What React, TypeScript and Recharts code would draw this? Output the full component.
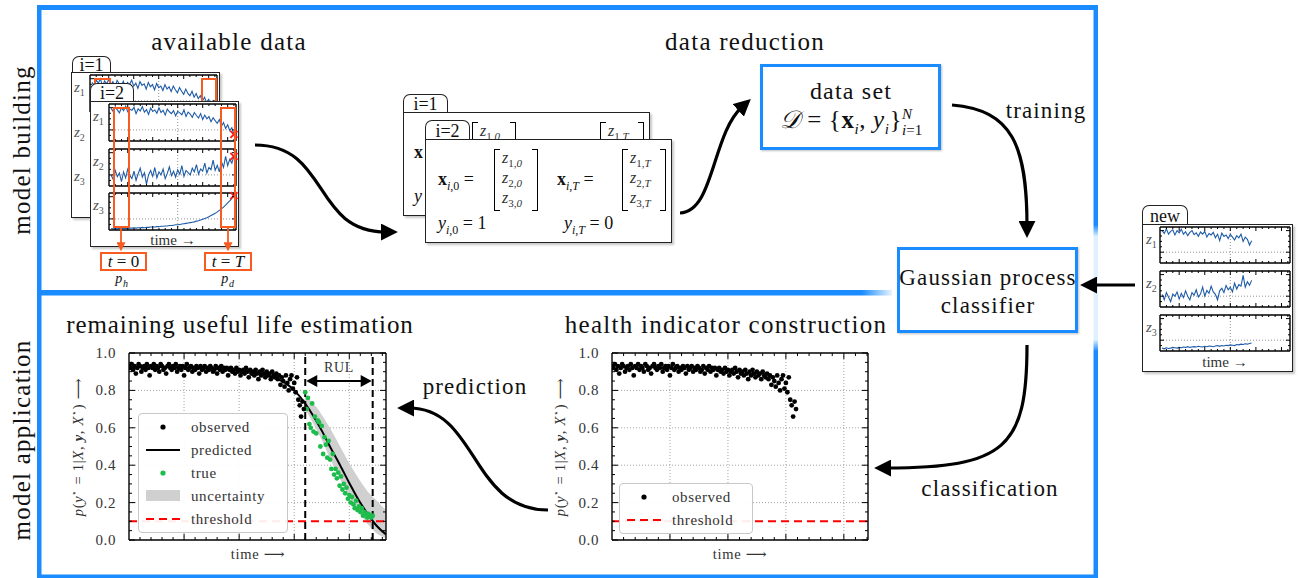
import React from "react";
import {
  ComposedChart,
  LineChart,
  Line,
  Scatter,
  Area,
  XAxis,
  YAxis,
  CartesianGrid,
  ReferenceLine,
  ReferenceDot,
} from "recharts";

const FONT = '"Liberation Serif", "DejaVu Serif", serif';
const BLUE = "#1a8cff";
const ORANGE = "#f85b1f";
const GREEN = "#1dbd4c";
const LINE_BLUE = "#1f5ca8";
const BAND_GRAY = "#d0d0d0";

// health indicator p(y*=1|...) observed up to the end of observation
const observedStart = 0;
const observedStep = 1.5;
const observedValues = [
  0.93, 0.92, 0.94, 0.91, 0.93, 0.89, 0.92, 0.94, 0.93, 0.9,
  0.92, 0.93, 0.91, 0.94, 0.92, 0.88, 0.93, 0.92, 0.94, 0.91,
  0.93, 0.92, 0.9, 0.94, 0.93, 0.91, 0.92, 0.89, 0.93, 0.94,
  0.92, 0.91, 0.93, 0.92, 0.94, 0.9, 0.92, 0.93, 0.91, 0.93,
  0.88, 0.92, 0.94, 0.91, 0.92, 0.93, 0.9, 0.92, 0.91, 0.93,
  0.92, 0.89, 0.93, 0.91, 0.92, 0.93, 0.9, 0.92, 0.91, 0.93,
  0.92, 0.9, 0.91, 0.93, 0.89, 0.92, 0.91, 0.93, 0.9, 0.92,
  0.91, 0.92, 0.88, 0.91,
  0.92, 0.9, 0.91, 0.89, 0.92, 0.9, 0.91, 0.88, 0.9, 0.91,
  0.89, 0.92, 0.9, 0.87, 0.91, 0.89, 0.9, 0.88, 0.91, 0.89,
  0.86, 0.9, 0.88, 0.91, 0.89, 0.87, 0.9, 0.88, 0.89, 0.86,
  0.9, 0.88, 0.87,
  0.89, 0.86, 0.88, 0.83, 0.87, 0.85, 0.82, 0.88, 0.84, 0.8,
  0.86, 0.88, 0.81, 0.84, 0.79, 0.87, 0.75, 0.72, 0.66, 0.74, 0.7,
];

// true values after the end of observation
const trueStart = 192;
const trueStep = 1.5;
const trueValues = [
  0.79, 0.7, 0.76, 0.62, 0.6, 0.73, 0.58, 0.66, 0.57, 0.64,
  0.63, 0.5, 0.61, 0.46, 0.55, 0.51, 0.44, 0.53, 0.43, 0.38,
  0.46, 0.35, 0.38, 0.33, 0.36, 0.29, 0.34, 0.27, 0.3, 0.25,
  0.28, 0.22, 0.24, 0.2, 0.23, 0.19, 0.17, 0.21, 0.16, 0.18,
  0.15, 0.17, 0.13, 0.15, 0.14, 0.12, 0.14, 0.13, 0.12, 0.13,
];

// predicted curve and uncertainty band
const predTime = [0, 20, 40, 60, 80, 100, 120, 140, 160, 170, 180, 192, 200, 210, 220, 230, 240, 250, 260, 270, 280];
const predValue = [0.925, 0.925, 0.925, 0.922, 0.92, 0.915, 0.907, 0.895, 0.865, 0.84, 0.8, 0.73, 0.67, 0.585, 0.49, 0.4, 0.305, 0.215, 0.14, 0.075, 0.03];
const bandTime = [192, 200, 210, 220, 230, 240, 250, 260, 270, 280];
const bandLow = [0.7, 0.63, 0.535, 0.425, 0.325, 0.23, 0.15, 0.085, 0.035, 0.01];
const bandHigh = [0.77, 0.735, 0.67, 0.59, 0.5, 0.41, 0.33, 0.26, 0.21, 0.16];

const eolStart = 192;
const eolEnd = 265.5;
const rulLevel = 0.85;
const threshold = 0.1;

const probYTicks = [0, 0.05, 0.1, 0.15, 0.2, 0.25, 0.3, 0.35, 0.4, 0.45, 0.5, 0.55, 0.6, 0.65, 0.7, 0.75, 0.8, 0.85, 0.9, 0.95, 1];
const probYMajor = [0, 0.2, 0.4, 0.6, 0.8, 1];
const probXTicks = [12, 24, 36, 48, 60, 72, 84, 96, 108, 120, 132, 144, 156, 168, 180, 192, 204, 216, 228, 240, 252, 264, 276];
const probXMajor = [60, 120, 180, 240];
const gridY = [0.2, 0.4, 0.6, 0.8];

// sensor time series, run i=2
const runZ1 = [
  0.88, 0.8, 0.92, 0.84, 0.76, 0.9, 0.82, 0.94, 0.79, 0.86,
  0.83, 0.91, 0.74, 0.87, 0.81, 0.93, 0.78, 0.85, 0.72, 0.89,
  0.8, 0.84, 0.75, 0.9, 0.77, 0.83, 0.7, 0.86, 0.79, 0.74,
  0.82, 0.68, 0.8, 0.76, 0.71, 0.84, 0.66, 0.78, 0.73, 0.64,
  0.77, 0.69, 0.62, 0.74, 0.58, 0.7, 0.6, 0.66, 0.52, 0.63,
  0.55, 0.48, 0.58, 0.4, 0.5, 0.34, 0.44, 0.28, 0.36, 0.18,
];
const runZ2 = [
  0.3, 0.18, 0.42, 0.25, 0.35, 0.12, 0.38, 0.22, 0.45, 0.28,
  0.2, 0.4, 0.15, 0.33, 0.48, 0.24, 0.36, 0.05, 0.3, 0.42,
  0.26, 0.5, 0.22, 0.38, 0.3, 0.46, 0.2, 0.34, 0.52, 0.28,
  0.4, 0.24, 0.44, 0.32, 0.55, 0.26, 0.42, 0.36, 0.3, 0.48,
  0.38, 0.58, 0.32, 0.46, 0.4, 0.62, 0.35, 0.5, 0.44, 0.7,
  0.42, 0.56, 0.38, 0.66, 0.5, 0.8, 0.55, 0.72, 0.62, 0.8,
];
const runZ3 = [
  0.04, 0.03, 0.04, 0.03, 0.05, 0.04, 0.04, 0.05, 0.04, 0.05,
  0.05, 0.06, 0.05, 0.06, 0.06, 0.07, 0.06, 0.07, 0.07, 0.08,
  0.08, 0.08, 0.09, 0.09, 0.1, 0.1, 0.11, 0.11, 0.12, 0.12,
  0.13, 0.14, 0.14, 0.15, 0.16, 0.17, 0.18, 0.19, 0.2, 0.21,
  0.22, 0.24, 0.25, 0.27, 0.29, 0.31, 0.33, 0.36, 0.39, 0.42,
  0.45, 0.49, 0.53, 0.57, 0.62, 0.67, 0.73, 0.79, 0.86, 0.93,
];
// run i=1 (only the top sensor is visible)
const backZ1 = [
  0.8, 0.72, 0.86, 0.78, 0.9, 0.7, 0.84, 0.76, 0.88, 0.74,
  0.82, 0.68, 0.85, 0.77, 0.71, 0.83, 0.66, 0.8, 0.74, 0.86,
  0.7, 0.78, 0.64, 0.82, 0.72, 0.76, 0.62, 0.8, 0.68, 0.74,
  0.6, 0.77, 0.66, 0.7, 0.58, 0.74, 0.62, 0.68, 0.55, 0.7,
  0.6, 0.52, 0.66, 0.56, 0.48, 0.62, 0.5, 0.44, 0.56, 0.4,
  0.5, 0.36, 0.44, 0.3, 0.4, 0.26, 0.34, 0.22, 0.3, 0.18,
];
// new, unlabelled run
const newZ1 = [
  0.9, 0.82, 0.95, 0.8, 0.88, 0.92, 0.78, 0.9, 0.84, 0.94,
  0.8, 0.87, 0.76, 0.85, 0.9, 0.79, 0.84, 0.74, 0.86, 0.8,
  0.88, 0.72, 0.82, 0.78, 0.85, 0.7, 0.8, 0.62, 0.83, 0.74,
  0.78, 0.68, 0.8, 0.72, 0.64, 0.76, 0.7, 0.8, 0.6, 0.72,
  0.66, 0.5, 0.62,
];
const newZ2 = [
  0.35, 0.2, 0.4, 0.28, 0.15, 0.36, 0.3, 0.42, 0.22, 0.38,
  0.26, 0.45, 0.3, 0.2, 0.4, 0.33, 0.48, 0.28, 0.36, 0.55,
  0.3, 0.46, 0.38, 0.58, 0.42, 0.35, 0.2, 0.45, 0.52, 0.4,
  0.6, 0.48, 0.55, 0.42, 0.66, 0.5, 0.62, 0.58, 0.88, 0.55,
  0.7, 0.6, 0.74,
];
const newZ3 = [
  0.08, 0.06, 0.09, 0.07, 0.08, 0.1, 0.09, 0.08, 0.1, 0.09,
  0.11, 0.1, 0.12, 0.1, 0.11, 0.12, 0.11, 0.13, 0.12, 0.11,
  0.13, 0.12, 0.14, 0.13, 0.12, 0.14, 0.15, 0.13, 0.15, 0.14,
  0.16, 0.15, 0.17, 0.16, 0.15, 0.18, 0.17, 0.19, 0.18, 0.2,
  0.19, 0.21, 0.22,
];
const smallXDomain = [-1, 60];
const smallXTicks = [2, 5, 8, 11, 14, 17, 20, 23, 26, 29, 32, 35, 38, 41, 44, 47, 50, 53, 56, 59];
const smallXMajor = [8, 20, 32, 44, 56];
const smallYTicks = [0.15, 0.3, 0.45, 0.6, 0.75, 0.9];
const smallYMajor = [0.3, 0.9];

const observedRows = observedValues.map((v, i) => ({ t: observedStart + i * observedStep, v }));
const trueRows = trueValues.map((v, i) => ({ t: trueStart + i * trueStep, v }));
const predRows = predTime.map((t, i) => {
  const j = bandTime.indexOf(t);
  return { t, pred: predValue[i], band: j >= 0 ? [bandLow[j], bandHigh[j]] : null };
});

const at = (left: number, top: number, width?: number, height?: number): React.CSSProperties => ({
  position: "absolute",
  left,
  top,
  width,
  height,
});

const isMajor = (list: number[], v: number) => list.some((m) => Math.abs(m - v) < 1e-6);

type FrameOpts = {
  xDomain: number[];
  yDomain: number[];
  xTicks: number[];
  yTicks: number[];
  xMajor: number[];
  yMajor: number[];
  majorLen: number;
  minorLen: number;
  yLabels?: boolean;
};

// box frame with inward ticks on all four sides (axes are 1px thick so that they render)
function frameAxes(o: FrameOpts) {
  const axisLine = { stroke: "#000", strokeWidth: 1.4 };
  const xLen = (v: number) => (isMajor(o.xMajor, v) ? o.majorLen : o.minorLen);
  const yLen = (v: number) => (isMajor(o.yMajor, v) ? o.majorLen : o.minorLen);
  const common = { interval: 0 as const, tickSize: 0, tickMargin: 0, tickLine: false, axisLine, allowDataOverflow: true };
  return [
    <XAxis
      key="xb"
      dataKey="t"
      type="number"
      domain={o.xDomain}
      ticks={o.xTicks}
      height={1}
      {...common}
      tick={(p: any) => (
        <line x1={p.x} x2={p.x} y1={p.y} y2={p.y - xLen(p.payload.value)} stroke="#000" strokeWidth={1} />
      )}
    />,
    <XAxis
      key="xt"
      xAxisId="top"
      orientation="top"
      dataKey="t"
      type="number"
      domain={o.xDomain}
      ticks={o.xTicks}
      height={1}
      {...common}
      tick={(p: any) => (
        <line x1={p.x} x2={p.x} y1={p.y} y2={p.y + xLen(p.payload.value)} stroke="#000" strokeWidth={1} />
      )}
    />,
    <YAxis
      key="yl"
      type="number"
      domain={o.yDomain}
      ticks={o.yTicks}
      width={1}
      {...common}
      tick={(p: any) => (
        <g>
          <line x1={p.x} x2={p.x + yLen(p.payload.value)} y1={p.y} y2={p.y} stroke="#000" strokeWidth={1} />
          {o.yLabels && isMajor(o.yMajor, p.payload.value) ? (
            <text x={p.x - 13} y={p.y} textAnchor="end" dominantBaseline="central" fontSize={15} fontFamily={FONT} fill="#333" letterSpacing={0.6}>
              {Number(p.payload.value).toFixed(1)}
            </text>
          ) : null}
        </g>
      )}
    />,
    <YAxis
      key="yr"
      yAxisId="right"
      orientation="right"
      type="number"
      domain={o.yDomain}
      ticks={o.yTicks}
      width={1}
      {...common}
      tick={(p: any) => (
        <line x1={p.x} x2={p.x - yLen(p.payload.value)} y1={p.y} y2={p.y} stroke="#000" strokeWidth={1} />
      )}
    />,
  ];
}

const dotShape = (color: string) => (p: any) => <circle cx={p.cx} cy={p.cy} r={2.4} fill={color} />;

const rulShape = (p: any) => {
  const { x1, y1, x2 } = p;
  return (
    <g>
      <line x1={x1 + 6} y1={y1} x2={x2 - 6} y2={y1} stroke="#000" strokeWidth={2} />
      <polygon points={`${x1 + 1},${y1} ${x1 + 12},${y1 - 6} ${x1 + 12},${y1 + 6}`} fill="#000" />
      <polygon points={`${x2 - 1},${y1} ${x2 - 12},${y1 - 6} ${x2 - 12},${y1 + 6}`} fill="#000" />
      <text x={(x1 + x2) / 2} y={y1 - 9} textAnchor="middle" fontSize={14} fontFamily={FONT} fill="#333" letterSpacing={0.6}>
        RUL
      </text>
    </g>
  );
};

function ProbChart({ xMax, full }: { xMax: number; full: boolean }) {
  return (
    <ComposedChart
      width={340}
      height={230}
      data={predRows}
      margin={{ top: 12, right: full ? 13 : 21, bottom: 29, left: full ? 68 : 61 }}
    >
      <CartesianGrid horizontalValues={gridY} verticalValues={probXMajor} stroke="#8a8a8a" strokeDasharray="1 2" strokeWidth={0.8} />
      {frameAxes({
        xDomain: [0, xMax],
        yDomain: [0, 1],
        xTicks: probXTicks.filter((v) => v < xMax),
        yTicks: probYTicks,
        xMajor: probXMajor,
        yMajor: probYMajor,
        majorLen: 6,
        minorLen: 3,
        yLabels: true,
      })}
      {full && (
        <Area dataKey="band" type="monotone" fill={BAND_GRAY} fillOpacity={1} stroke="none" connectNulls isAnimationActive={false} />
      )}
      <ReferenceLine y={threshold} stroke="#ff0000" strokeWidth={2} strokeDasharray="8 5" />
      {full && <Scatter data={trueRows} dataKey="v" fill={GREEN} shape={dotShape(GREEN)} isAnimationActive={false} />}
      {full && (
        <Line dataKey="pred" type="monotone" stroke="#000" strokeWidth={2} dot={false} connectNulls isAnimationActive={false} />
      )}
      <Scatter data={observedRows} dataKey="v" fill="#000" shape={dotShape("#000")} isAnimationActive={false} />
      {full && <ReferenceLine x={eolStart} stroke="#000" strokeWidth={2} strokeDasharray="7 4" />}
      {full && <ReferenceLine x={eolEnd} stroke="#000" strokeWidth={2} strokeDasharray="7 4" />}
      {full && (
        <ReferenceLine
          segment={[
            { x: eolStart, y: rulLevel },
            { x: eolEnd, y: rulLevel },
          ]}
          shape={rulShape}
        />
      )}
    </ComposedChart>
  );
}

const xMark = (p: any) => (
  <g stroke="#ff1a1a" strokeWidth={2}>
    <line x1={p.cx - 3.5} y1={p.cy - 3.5} x2={p.cx + 3.5} y2={p.cy + 3.5} />
    <line x1={p.cx - 3.5} y1={p.cy + 3.5} x2={p.cx + 3.5} y2={p.cy - 3.5} />
  </g>
);

function SmallSeries({ values, width, height, endMark }: { values: number[]; width: number; height: number; endMark?: boolean }) {
  const rows = values.map((v, i) => ({ t: i, v }));
  const last = rows[rows.length - 1];
  return (
    <LineChart width={width + 4} height={height + 4} data={rows} margin={{ top: 1, right: 1, bottom: 1, left: 1 }}>
      <CartesianGrid horizontalValues={[0.3]} verticalValues={[32]} stroke="#777" strokeDasharray="1 2" strokeWidth={0.8} />
      {frameAxes({
        xDomain: smallXDomain,
        yDomain: [0, 1],
        xTicks: smallXTicks,
        yTicks: smallYTicks,
        xMajor: smallXMajor,
        yMajor: smallYMajor,
        majorLen: 4,
        minorLen: 2,
      })}
      <Line dataKey="v" type="linear" stroke={LINE_BLUE} strokeWidth={1.1} dot={false} isAnimationActive={false} />
      {endMark && <ReferenceDot x={last.t} y={last.v} r={3} shape={xMark} ifOverflow="visible" />}
    </LineChart>
  );
}

const zLabel = (n: number) => (
  <span style={{ color: "#555", fontStyle: "italic" }}>
    z<sub style={{ fontSize: 10, fontStyle: "normal" }}>{n}</sub>
  </span>
);

const panelStyle: React.CSSProperties = {
  border: "1.5px solid #222",
  background: "#fff",
  boxSizing: "border-box",
  boxShadow: "2px 2px 2px rgba(0,0,0,0.22)",
};

function Tab({ left, top, width, height, label }: { left: number; top: number; width: number; height: number; label: string }) {
  return (
    <div
      style={{
        ...at(left, top, width, height),
        border: "1.5px solid #222",
        borderBottom: "none",
        borderRadius: "7px 7px 0 0",
        background: "#fff",
        boxSizing: "border-box",
        textAlign: "center",
        fontSize: 18,
        lineHeight: `${height}px`,
      }}
    >
      {label}
    </div>
  );
}

function SensorPanel({ left, top, z1, z2, z3, full }: { left: number; top: number; z1: number[]; z2: number[]; z3: number[]; full: boolean }) {
  return (
    <div style={{ ...at(left, top, 149, 146), ...panelStyle }}>
      <div style={{ ...at(2, 6), fontSize: 15 }}>{zLabel(1)}</div>
      <div style={{ ...at(2, 51), fontSize: 15 }}>{zLabel(2)}</div>
      <div style={{ ...at(2, 95), fontSize: 15 }}>{zLabel(3)}</div>
      <div style={at(16, 0)}>
        <SmallSeries values={z1} width={127} height={37} endMark />
      </div>
      {full && (
        <div style={at(16, 45)}>
          <SmallSeries values={z2} width={127} height={37} endMark />
        </div>
      )}
      {full && (
        <div style={at(16, 89)}>
          <SmallSeries values={z3} width={127} height={37} endMark />
        </div>
      )}
      {full && <div style={{ ...at(82, 138), transform: "translate(-50%,-50%)", fontSize: 15, whiteSpace: "nowrap", color: "#333" }}>time →</div>}
      <div style={{ ...at(22, 5, 17, 121), border: `2px solid ${ORANGE}`, boxSizing: "border-box" }} />
      <div style={{ ...at(129, 5, 16, 121), border: `2px solid ${ORANGE}`, boxSizing: "border-box" }} />
    </div>
  );
}

function NewPanel() {
  return (
    <div style={{ ...at(1142, 224, 151, 148), ...panelStyle }}>
      <div style={{ ...at(3, 6), fontSize: 15 }}>{zLabel(1)}</div>
      <div style={{ ...at(3, 50), fontSize: 15 }}>{zLabel(2)}</div>
      <div style={{ ...at(3, 94), fontSize: 15 }}>{zLabel(3)}</div>
      <div style={at(15, 0)}>
        <SmallSeries values={newZ1} width={130} height={36} />
      </div>
      <div style={at(15, 44)}>
        <SmallSeries values={newZ2} width={130} height={36} />
      </div>
      <div style={at(15, 88)}>
        <SmallSeries values={newZ3} width={130} height={36} />
      </div>
      <div style={{ ...at(82, 137), transform: "translate(-50%,-50%)", fontSize: 15, whiteSpace: "nowrap", color: "#333" }}>time →</div>
    </div>
  );
}

const sub = (s: React.ReactNode, size = 12) => <sub style={{ fontSize: size }}>{s}</sub>;

function Matrix({ left, top, items }: { left: number; top: number; items: React.ReactNode[] }) {
  const br: React.CSSProperties = { position: "absolute", top: 0, width: 5, height: 60, borderTop: "1.3px solid #000", borderBottom: "1.3px solid #000" };
  return (
    <div style={at(left, top, 44, 62)}>
      <div style={{ ...br, left: 0, borderLeft: "1.3px solid #000" }} />
      <div style={{ ...br, right: 0, borderRight: "1.3px solid #000" }} />
      {items.map((it, k) => (
        <div key={k} style={{ ...at(8, 0 + k * 20), fontSize: 16, color: "#333", whiteSpace: "nowrap" }}>
          {it}
        </div>
      ))}
    </div>
  );
}

const zEntry = (a: string, b: string) => (
  <span>
    <i>z</i>
    {sub(
      <>
        {a},<i>{b}</i>
      </>,
      11
    )}
  </span>
);

function ReductionPanel({ left, top, back }: { left: number; top: number; back?: boolean }) {
  const math: React.CSSProperties = { fontSize: 18, whiteSpace: "nowrap" };
  if (back) {
    // only the parts that are not covered by the front panel
    return (
      <div style={{ ...at(left, top, 247, 104), ...panelStyle }}>
        <div style={{ ...at(10, 29), ...math }}>
          <b>x</b>
        </div>
        <div style={{ ...at(10, 73), ...math }}>
          <i>y</i>
        </div>
        <Matrix left={68} top={9} items={[zEntry("1", "0")]} />
        <Matrix left={196} top={9} items={[zEntry("1", "T")]} />
      </div>
    );
  }
  return (
    <div style={{ ...at(left, top, 247, 104), ...panelStyle }}>
      <div style={{ ...at(12, 29), ...math }}>
        <b>x</b>
        {sub(<><i>i</i>,0</>)} =
      </div>
      <Matrix left={68} top={9} items={[zEntry("1", "0"), zEntry("2", "0"), zEntry("3", "0")]} />
      <div style={{ ...at(131, 29), ...math }}>
        <b>x</b>
        {sub(<><i>i</i>,<i>T</i></>)} =
      </div>
      <Matrix left={196} top={9} items={[zEntry("1", "T"), zEntry("2", "T"), zEntry("3", "T")]} />
      <div style={{ ...at(12, 73), ...math }}>
        <i>y</i>
        {sub(<><i>i</i>,0</>)} = 1
      </div>
      <div style={{ ...at(138, 73), ...math }}>
        <i>y</i>
        {sub(<><i>i</i>,<i>T</i></>)} = 0
      </div>
    </div>
  );
}

type LegendRow = { kind: "dot" | "dotg" | "line" | "band" | "dash"; label: string };
const rulLegend: LegendRow[] = [
  { kind: "dot", label: "observed" },
  { kind: "line", label: "predicted" },
  { kind: "dotg", label: "true" },
  { kind: "band", label: "uncertainty" },
  { kind: "dash", label: "threshold" },
];
const healthLegend: LegendRow[] = [
  { kind: "dot", label: "observed" },
  { kind: "dash", label: "threshold" },
];

function LegendBox({ left, top, width, rows, symX, textX }: { left: number; top: number; width: number; rows: LegendRow[]; symX: number; textX: number }) {
  const rowH = 23;
  const sym = (k: LegendRow["kind"]) => {
    if (k === "dot") return <circle cx={symX} cy={10} r={2.6} fill="#000" />;
    if (k === "dotg") return <circle cx={symX} cy={10} r={2.6} fill={GREEN} />;
    if (k === "line") return <line x1={symX - 17} x2={symX + 17} y1={10} y2={10} stroke="#000" strokeWidth={2} />;
    if (k === "band") return <rect x={symX - 17} y={4} width={34} height={11} fill={BAND_GRAY} />;
    return <line x1={symX - 17} x2={symX + 17} y1={10} y2={10} stroke="#ff0000" strokeWidth={2} strokeDasharray="8 5" />;
  };
  return (
    <div
      style={{
        ...at(left, top, width, rows.length * rowH + 5),
        border: "1.6px solid #c8c8c8",
        borderRadius: 4,
        background: "rgba(255,255,255,0.92)",
        boxSizing: "border-box",
      }}
    >
      {rows.map((r, k) => (
        <div key={r.label} style={at(0, 3 + k * rowH, width, 20)}>
          <svg width={textX} height={20} style={{ position: "absolute", left: 0, top: 0 }}>
            {sym(r.kind)}
          </svg>
          <span style={{ ...at(textX, 0), fontSize: 15, lineHeight: "20px", color: "#333", letterSpacing: 0.6 }}>{r.label}</span>
        </div>
      ))}
    </div>
  );
}

const center = (x: number, y: number, size: number, extra?: React.CSSProperties): React.CSSProperties => ({
  position: "absolute",
  left: x,
  top: y,
  transform: "translate(-50%,-50%)",
  fontSize: size,
  whiteSpace: "nowrap",
  letterSpacing: size * 0.05,
  ...extra,
});

const yLabel = (
  <span>
    <i>p</i>(<i>y</i>
    <sup style={{ fontSize: 9 }}>⋆</sup> = 1|<i>X</i>, <b><i>y</i></b>, <i>X</i>
    <sup style={{ fontSize: 9 }}>⋆</sup>) ⟶
  </span>
);

const arrowPaths = [
  "M255,145 C330,145 312,232 386,232",
  "M680,213 C714,212 712,134 742,107",
  "M952,105 C1012,110 1027,145 1027,226",
  "M1135,285 L1092,285",
  "M1027,345 C1027,448 1005,468 886,468",
  "M548,510 C470,510 478,408 409,408",
];

export default function App() {
  return (
    <div style={{ ...at(0, 0, 1299, 578), fontFamily: FONT, background: "#fff", color: "#111", overflow: "hidden" }}>
      {/* blue frame */}
      <svg width={1299} height={578} style={{ position: "absolute", left: 0, top: 0 }}>
        <defs>
          <linearGradient id="gRight" x1="0" y1="0" x2="0" y2="1">
            <stop offset="0" stopColor={BLUE} />
            <stop offset="0.384" stopColor={BLUE} />
            <stop offset="0.404" stopColor={BLUE} stopOpacity={0.13} />
            <stop offset="0.584" stopColor={BLUE} stopOpacity={0.13} />
            <stop offset="0.604" stopColor={BLUE} />
            <stop offset="1" stopColor={BLUE} />
          </linearGradient>
          <linearGradient id="gMid" x1="0" y1="0" x2="1" y2="0">
            <stop offset="0" stopColor={BLUE} />
            <stop offset="0.965" stopColor={BLUE} />
            <stop offset="1" stopColor={BLUE} stopOpacity={0.1} />
          </linearGradient>
        </defs>
        <rect x={37} y={5} width={4.5} height={573} fill={BLUE} />
        <rect x={37} y={5} width={1061} height={5} fill={BLUE} />
        <rect x={1093.5} y={5} width={4.5} height={573} fill="url(#gRight)" />
        <rect x={37} y={290} width={855} height={5.5} fill="url(#gMid)" />
        <rect x={37} y={574.5} width={1061} height={4} fill={BLUE} />
      </svg>

      <div style={center(22, 150, 25, { transform: "translate(-50%,-50%) rotate(-90deg)" })}>model building</div>
      <div style={center(22, 440, 25, { transform: "translate(-50%,-50%) rotate(-90deg)" })}>model application</div>

      <div style={center(229, 42, 25)}>available data</div>
      <div style={center(745, 42, 25)}>data reduction</div>
      <div style={center(240, 325, 25, { letterSpacing: 0.9 })}>remaining useful life estimation</div>
      <div style={center(726, 325, 25)}>health indicator construction</div>

      {/* available data */}
      <Tab left={72} top={56} width={39} height={17} label="i=1" />
      <SensorPanel left={71} top={72} z1={backZ1} z2={runZ2} z3={runZ3} full={false} />
      <Tab left={90} top={83} width={44} height={19} label="i=2" />
      <SensorPanel left={90} top={101} z1={runZ1} z2={runZ2} z3={runZ3} full />
      <div style={{ ...at(100, 252, 47, 19), border: `2px solid ${ORANGE}`, boxSizing: "border-box", textAlign: "center", fontSize: 17, lineHeight: "15px" }}>
        <i>t</i> = 0
      </div>
      <div style={{ ...at(204, 252, 48, 19), border: `2px solid ${ORANGE}`, boxSizing: "border-box", textAlign: "center", fontSize: 17, lineHeight: "15px" }}>
        <i>t</i> = <i>T</i>
      </div>
      <div style={center(122, 280, 14)}>
        <i>p</i>
        <sub style={{ fontSize: 10 }}>
          <i>h</i>
        </sub>
      </div>
      <div style={center(228, 280, 14)}>
        <i>p</i>
        <sub style={{ fontSize: 10 }}>
          <i>d</i>
        </sub>
      </div>

      {/* data reduction */}
      <Tab left={403} top={94} width={45} height={19} label="i=1" />
      <ReductionPanel left={403} top={112} back />
      <Tab left={425} top={120} width={45} height={20} label="i=2" />
      <ReductionPanel left={425} top={139} />

      {/* data set and classifier */}
      <div style={{ ...at(760, 64, 181, 86), border: `3px solid ${BLUE}`, boxSizing: "border-box", background: "#fff", boxShadow: "1px 1px 2px rgba(0,0,0,0.25)" }}>
        <div style={center(88, 24, 24)}>data set</div>
        <div style={center(88, 55, 25, { letterSpacing: 0.6 })}>
          <i>𝒟</i> = {"{"}
          <b>x</b>
          <sub style={{ fontSize: 15 }}>
            <i>i</i>
          </sub>
          , <i>y</i>
          <sub style={{ fontSize: 15 }}>
            <i>i</i>
          </sub>
          {"}"}
          <span style={{ display: "inline-flex", flexDirection: "column", fontSize: 15, lineHeight: "16px", verticalAlign: "middle", letterSpacing: 0 }}>
            <i>N</i>
            <span>
              <i>i</i>=1
            </span>
          </span>
        </div>
      </div>
      <div style={{ ...at(897, 247, 181, 86), border: `3px solid ${BLUE}`, boxSizing: "border-box", background: "#fff", boxShadow: "1px 1px 2px rgba(0,0,0,0.25)" }}>
        <div style={center(88, 28, 23)}>Gaussian process</div>
        <div style={center(88, 56, 23)}>classifier</div>
      </div>

      <Tab left={1142} top={205} width={46} height={20} label="new" />
      <NewPanel />

      <div style={center(1046, 111, 23)}>training</div>
      <div style={center(990, 489, 23)}>classification</div>
      <div style={center(475, 387, 23)}>prediction</div>

      {/* remaining useful life estimation */}
      <div style={at(60, 340)}>
        <ProbChart xMax={280} full />
      </div>
      <LegendBox left={138} top={413} width={150} rows={rulLegend} symX={24} textX={52} />
      <div style={center(78, 447, 14.5, { transform: "translate(-50%,-50%) rotate(-90deg)", color: "#333" })}>{yLabel}</div>
      <div style={center(258, 554, 14.5, { color: "#333" })}>time ⟶</div>

      {/* health indicator construction */}
      <div style={at(550, 340)}>
        <ProbChart xMax={265} full={false} />
      </div>
      <LegendBox left={619} top={483} width={134} rows={healthLegend} symX={24} textX={52} />
      <div style={center(560, 447, 14.5, { transform: "translate(-50%,-50%) rotate(-90deg)", color: "#333" })}>{yLabel}</div>
      <div style={center(740, 554, 14.5, { color: "#333" })}>time ⟶</div>

      {/* flow arrows */}
      <svg width={1299} height={578} style={{ position: "absolute", left: 0, top: 0, pointerEvents: "none" }}>
        <defs>
          <marker id="ah" viewBox="0 0 10 10" refX="3" refY="5" markerUnits="userSpaceOnUse" markerWidth="17" markerHeight="17" orient="auto">
            <path d="M0,0 L10,5 L0,10 z" fill="#000" />
          </marker>
          <marker id="aho" viewBox="0 0 10 10" refX="3" refY="5" markerUnits="userSpaceOnUse" markerWidth="9" markerHeight="9" orient="auto">
            <path d="M0,0 L10,5 L0,10 z" fill={ORANGE} />
          </marker>
        </defs>
        {arrowPaths.map((d) => (
          <path key={d} d={d} stroke="#000" strokeWidth={3.2} fill="none" markerEnd="url(#ah)" />
        ))}
        <path d="M121,227 L121,245" stroke={ORANGE} strokeWidth={1.8} fill="none" markerEnd="url(#aho)" />
        <path d="M228,227 L228,245" stroke={ORANGE} strokeWidth={1.8} fill="none" markerEnd="url(#aho)" />
      </svg>
    </div>
  );
}
